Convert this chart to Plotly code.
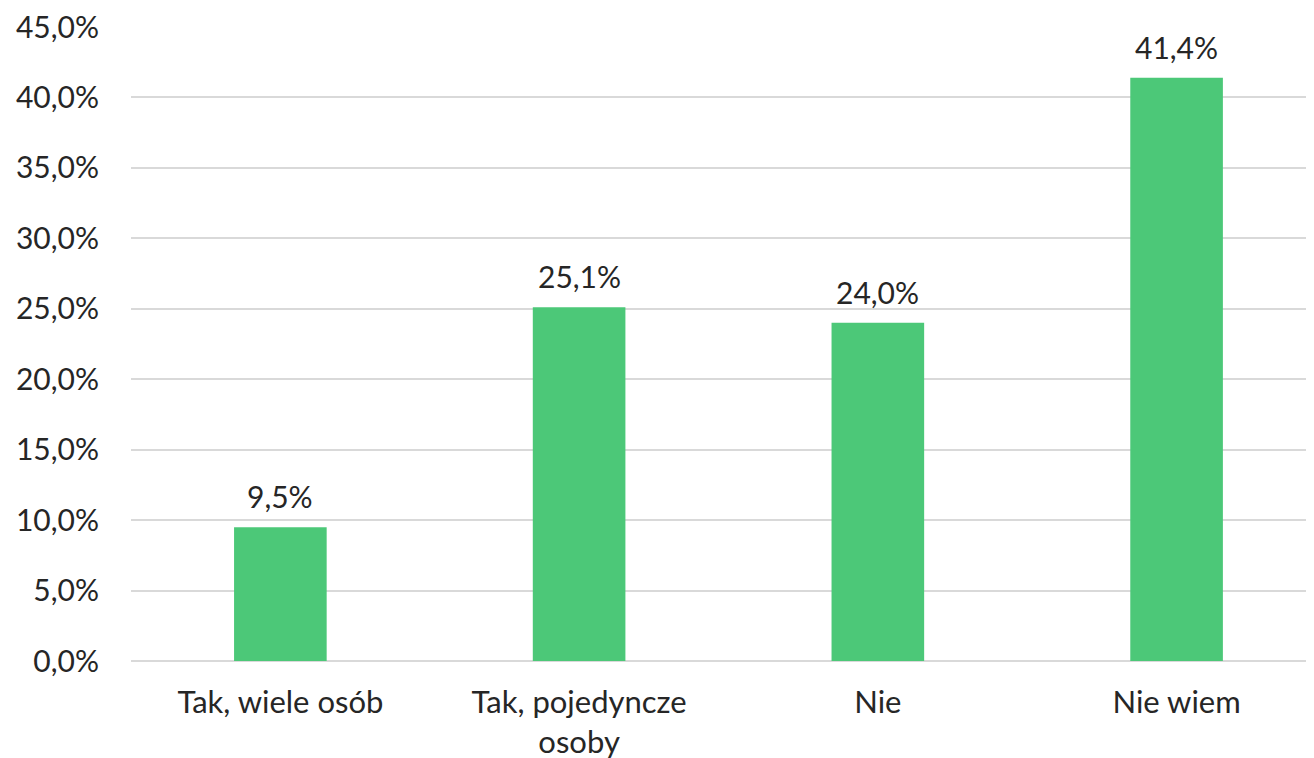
import plotly.graph_objects as go

categories = ["Tak, wiele osób", "Tak, pojedyncze<br>osoby", "Nie", "Nie wiem"]
values = [9.5, 25.1, 24.0, 41.4]
y_ticks = [0, 5, 10, 15, 20, 25, 30, 35, 40, 45]
y_tick_labels = [f"{v:.1f}%".replace(".", ",") for v in y_ticks]

bar_color = "#4cc878"
text_color = "#262626"
grid_color = "#d9d9d9"

fig = go.Figure()
fig.add_trace(go.Bar(
    x=categories,
    y=values,
    marker_color=bar_color,
    marker_line_width=0,
    cliponaxis=False,
))

# value labels above the bars
for c, v in zip(categories, values):
    fig.add_annotation(
        x=c, y=v,
        text=f"{v:.1f}%".replace(".", ","),
        showarrow=False,
        yanchor="bottom",
        yshift=11,
        font=dict(size=30, color=text_color),
    )

# page body has an 8px margin, so the figure is a bit smaller than the window
fig.update_layout(
    width=1306,
    height=750,
    margin=dict(l=123, r=0, t=19, b=97),
    paper_bgcolor="white",
    plot_bgcolor="white",
    font=dict(family="Lato, Noto Sans, sans-serif", size=30, color=text_color),
    bargap=0.69,
    showlegend=False,
    xaxis=dict(
        range=[-0.5, 3.46],
        showgrid=False,
        showline=False,
        ticks="",
        automargin=False,
        ticklabelstandoff=20,
        tickfont=dict(size=31),
    ),
    yaxis=dict(
        range=[0, 45],
        tickmode="array",
        tickvals=y_ticks,
        ticktext=y_tick_labels,
        showgrid=True,
        gridcolor=grid_color,
        gridwidth=2,
        zeroline=True,
        zerolinecolor=grid_color,
        zerolinewidth=2,
        showline=False,
        ticks="",
        automargin=False,
        ticklabelstandoff=31,
        ticklabeloverflow="allow",
        tickfont=dict(size=30),
    ),
)

fig.write_html("out.html")
